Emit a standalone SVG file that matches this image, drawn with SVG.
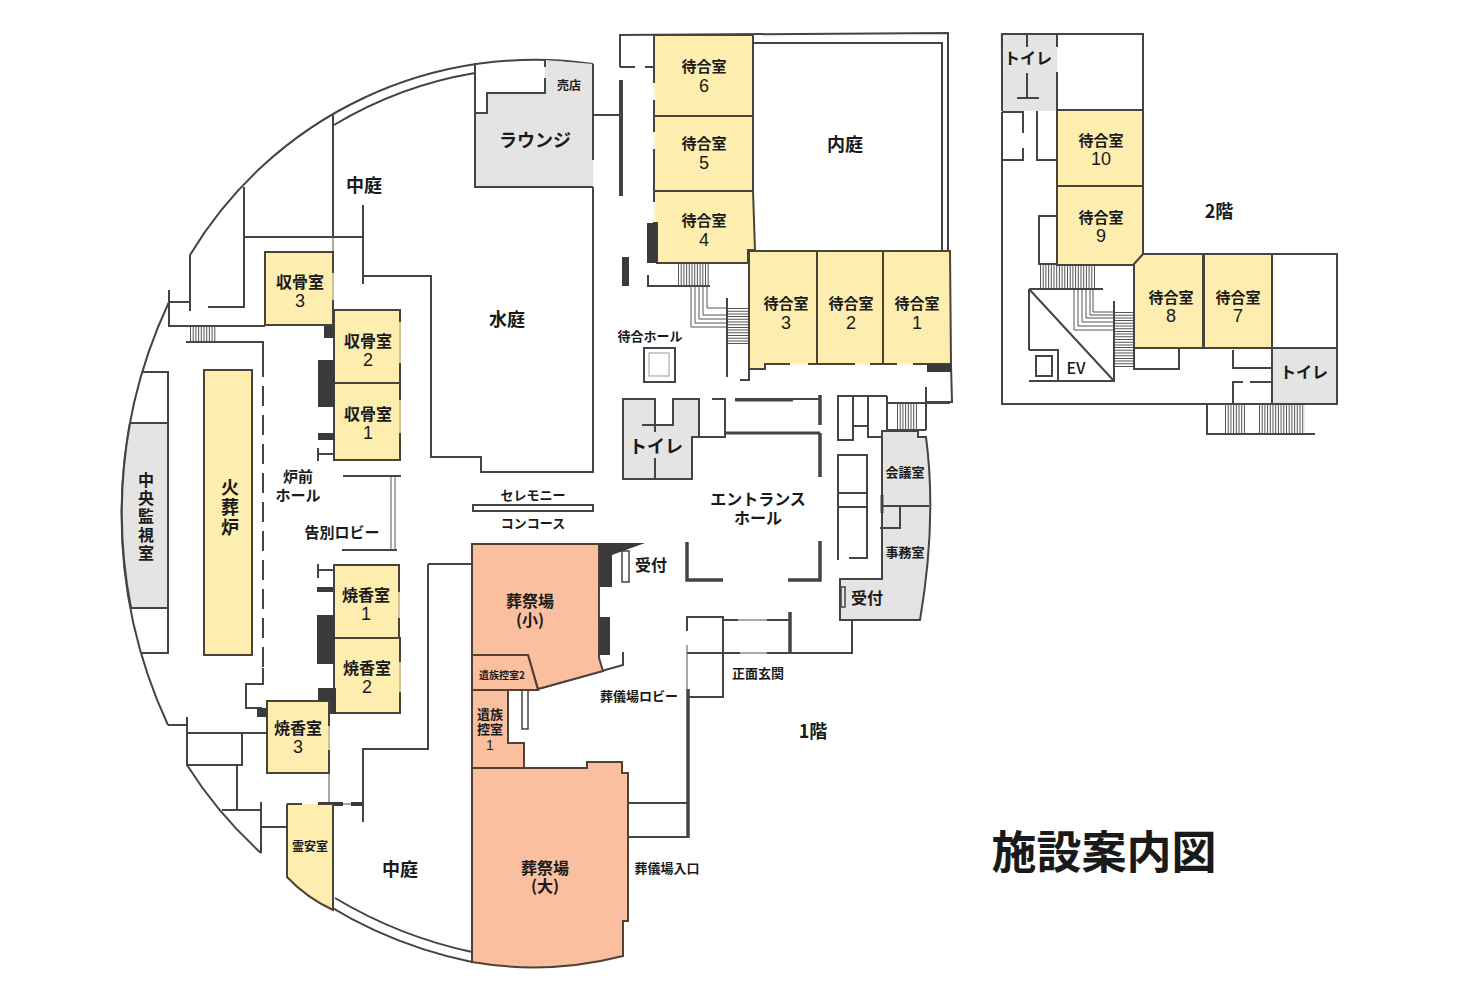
<svg xmlns="http://www.w3.org/2000/svg" width="1460" height="1000" viewBox="0 0 1460 1000">
<style>
text{font-family:"Noto Sans CJK JP","Noto Sans",sans-serif;font-weight:700;fill:#1a1a1a;text-anchor:middle}
.num{font-family:"Liberation Sans",sans-serif;font-size:18px;font-weight:400}
.w{fill:none;stroke:#444;stroke-width:2}
.t{fill:none;stroke:#444;stroke-width:3.5}
.n{fill:none;stroke:#555;stroke-width:1}
.y{fill:#fdeeb0;stroke:#4a4436;stroke-width:2}
.o{fill:#f9bf9f;stroke:#4f4038;stroke-width:2}
.g{fill:#e4e4e4;stroke:#444;stroke-width:2}
.gf{fill:#e4e4e4;stroke:none}
.d{fill:#3a3a3a;stroke:none}
.h{fill:none;stroke:#555;stroke-dasharray:1 1.7}
.e{fill:none;stroke:#cfc28e;stroke-width:2}
.s16{font-size:16px}.s15{font-size:15px}.s18{font-size:18px}.s13{font-size:13px}.s12{font-size:12px}.s10{font-size:10px}
</style>
<rect width="1460" height="1000" fill="#fff"/>

<g id="connectors">
<path class="w" d="M593 64A402 402 0 0 0 190 255"/>
<path class="w" d="M169 302A500 500 0 0 0 168 725"/>
<path class="w" d="M187 765A420 420 0 0 0 261 853M287 877A450 450 0 0 0 472 962"/>
<path class="w" d="M475 73A402 402 0 0 0 334 125M335 898A450 450 0 0 0 472 952"/>
<path class="w" d="M333 114V237M244 187V307H208M190 255V311M169 290V326H265M169 302H189M244 237H363M363 205V284M363 276H431V457H481V472H593V187M186 342H263V357"/>
<path class="n" d="M333 237V252"/>
<path class="h" stroke-width="15" d="M190 334H216"/>
<path class="w" d="M142 372H168V423M168 608V653H142"/>
<path class="w" stroke-dasharray="20 9" d="M263 357V668"/>
<path class="w" d="M263 668V684H246V708H262M168 725H187M187 717V765H242V733M187 733H267M237 764V810M222 810H261M261 802V853M261 827H287"/>
<path class="w" d="M318 448V461M318 454H334M318 564V578M318 570H334"/>
<path class="w" d="M343 476H401M342 550H397"/>
<path class="n" stroke-width="1.500" d="M391 476V550M395 476V550"/>
<path class="n" d="M329 773V804M343 804H351"/>
<path class="d" d="M318 802H343V806H318ZM351 802H363V806H351Z"/>
<path class="w" d="M428 564H472M428 564V749H363V822"/>
<rect class="w" x="473" y="505" width="120" height="6"/>
<path class="w" d="M620 67V35L948 33V250M753 43H942V250M593 115H620M951 365L952 402H927M926 387V430M887 403H950M887 430H926M887 396H838V440H853V396M853 426H868M868 396V437H882M887 396V430"/>
<path class="w" d="M620 67H635M645 67H654"/>
<path class="t" style="stroke-width:4" d="M621 80V196"/>
<path class="d" d="M622 257H629V286H622Z"/>
<path class="w" d="M648 275V286H710"/>
<path class="h" stroke-width="23" d="M678 274.500H710"/>
<path class="n" stroke-width="1.200" d="M691 286V327H727M695 286V323H727M699 286V319H727M703 286V315H727M707 286V308H727"/>
<path class="h" stroke-width="22" d="M738 308V345"/>
<path class="w" d="M727 298V377M740 380H749V369"/>
<rect x="644" y="348" width="31" height="34" class="w"/>
<rect x="649" y="353" width="20" height="23" fill="none" stroke="#999"/>
<path class="t" d="M687 542V580H723M820 541V580H788"/>
<path class="t" d="M820 395V425M820 433V477"/>
<path class="w" d="M712 399H725V437H692M735 399H820"/>
<path class="t" style="stroke-width:3" d="M735 400H793M725 433H820"/>
<path class="w" d="M849 558H867V455H838V560M838 493H867M838 507H867"/>
<path class="w" d="M687 631V617H723V697H688M723 620H738M767 620H790M687 653H740M767 653H852V620"/>
<path class="n" d="M738 620H767M740 653H767M687 645V689"/>
<path class="t" d="M790 612V653"/>
<path class="t" d="M688 689V838"/>
<path class="w" d="M628 803H688M628 837H688"/>
<path class="w" d="M623 652V665L538 689"/>
<rect class="w" x="622" y="551" width="7" height="31" style="stroke-width:1.500"/>
<rect class="w" x="522" y="690" width="6" height="39" style="stroke-width:1.500"/>
<path class="h" stroke-width="27" d="M897 416.500H917"/>
<path class="w" d="M1057 34H1143V110M1002 112V404H1337V254H1272M1002 112H1023V133M1023 148V160H1002M1056 110H1037V160H1056M1056 216H1039V264H1056"/>
<path class="w" d="M1029 289H1103M1029 289V350M1029 289L1114 381M1114 301V381H1029M1029 350H1058V381"/>
<rect class="w" x="1036" y="356" width="16" height="20"/>
<path class="h" stroke-width="23" d="M1040 276.500H1096"/>
<path class="n" stroke-width="1.200" d="M1074 290V330H1114M1078 290V326H1114M1082 290V322H1114M1086 290V318H1114M1090 290V315H1114M1093 290V312H1114"/>
<path class="h" stroke-width="19" d="M1124.500 312V368"/>
<path class="w" d="M1134 348V369H1179V348M1233 350V368H1272M1272 382H1250M1243 382H1233V404M1272 348V404M1207 404V434H1315"/>
<path class="h" stroke-width="30" d="M1225 419H1245M1259 419H1305"/>
</g>

<g id="room-chuoukanshi">
<path class="g" d="M130 423H168V608H131A500 500 0 0 1 130 423Z"/>
<text class="s16" x="146" y="486"><tspan x="146">中</tspan><tspan x="146" dy="18.200">央</tspan><tspan x="146" dy="18.200">監</tspan><tspan x="146" dy="18.200">視</tspan><tspan x="146" dy="18.200">室</tspan></text>
</g>
<g id="room-kasouro">
<rect class="y" x="204" y="370" width="48" height="285"/>
<text class="s18" x="230" y="494"><tspan x="230">火</tspan><tspan x="230" dy="20">葬</tspan><tspan x="230" dy="20">炉</tspan></text>
</g>
<g id="room-shukotsu3"><rect class="y" x="265" y="252" width="68" height="73"/><path class="e" d="M333 273V300"/><text class="s16" x="300" y="288"><tspan x="300">収骨室</tspan><tspan x="300" dy="18.500" class="num">3</tspan></text></g>
<g id="room-shukotsu2"><rect class="y" x="334" y="310" width="66" height="73"/><path class="e" d="M400 322V363"/><text class="s16" x="368" y="347"><tspan x="368">収骨室</tspan><tspan x="368" dy="18.500" class="num">2</tspan></text></g>
<g id="room-shukotsu1"><rect class="y" x="334" y="383" width="66" height="77"/><path class="e" d="M400 400V433"/><text class="s16" x="368" y="420"><tspan x="368">収骨室</tspan><tspan x="368" dy="18.500" class="num">1</tspan></text></g>
<path class="d" d="M324 326H334V338H324ZM318 360H335V407H318ZM318 433H335V440H318Z"/>
<g id="room-shoukou1"><rect class="y" x="334" y="565" width="65" height="73"/><path class="e" d="M399 592V618"/><text class="s16" x="366" y="601"><tspan x="366">焼香室</tspan><tspan x="366" dy="18.500" class="num">1</tspan></text></g>
<g id="room-shoukou2"><rect class="y" x="334" y="638" width="66" height="75"/><path class="e" d="M400 662V692"/><text class="s16" x="367" y="674"><tspan x="367">焼香室</tspan><tspan x="367" dy="18.500" class="num">2</tspan></text></g>
<g id="room-shoukou3"><rect class="y" x="267" y="701" width="62" height="72"/><path class="e" d="M329 726V750"/><text class="s16" x="298" y="734"><tspan x="298">焼香室</tspan><tspan x="298" dy="18.500" class="num">3</tspan></text></g>
<path class="d" d="M317 615H335V664H317ZM317 587H333V592H317ZM257 708H267V717H257ZM318 688H336V714H330V701H318Z"/>
<g id="room-reian"><path class="y" d="M287 804H302M318 804H333V910A150 150 0 0 1 287 877V804"/><text class="s12" x="310" y="851">霊安室</text></g>

<g id="room-lounge">
<path class="gf" d="M475 113H487V93H545V60L593 64V187H475Z"/>
<path class="w" d="M475 63V187H593M475 113H487V93H545V78M545 60V67M593 64V160"/>
<text class="s18" x="535" y="147">ラウンジ</text>
<text class="s12" x="569" y="90">売店</text>
</g>

<g id="room-machiai6"><path class="y" d="M654 35H753V116H654Z" style="stroke:none"/><text class="s15" x="704" y="72"><tspan x="704">待合室</tspan><tspan x="704" dy="19.500" class="num">6</tspan></text></g>
<g id="room-machiai5"><path class="y" d="M654 116H753V191H654Z"/><text class="s15" x="704" y="149"><tspan x="704">待合室</tspan><tspan x="704" dy="19.500" class="num">5</tspan></text></g>
<g id="room-machiai4"><path class="y" d="M654 191H753L755 250H748V263H657V223H654Z"/><text class="s15" x="704" y="226"><tspan x="704">待合室</tspan><tspan x="704" dy="19.500" class="num">4</tspan></text></g>
<path class="w" d="M654 35H753V116M654 35V83M654 100V131M654 150V201"/>
<path d="M654 84V99M654 132V149M654 202V222" stroke="#fdf6d8" stroke-width="2.500" fill="none"/>
<path class="d" d="M647 223H657V263H647Z"/>
<g id="room-machiai3"><path class="y" d="M749 251H817V364H765V369H749Z"/><text class="s15" x="786" y="309"><tspan x="786">待合室</tspan><tspan x="786" dy="19.500" class="num">3</tspan></text></g>
<g id="room-machiai2"><path class="y" d="M817 251H883V364H817Z"/><text class="s15" x="851" y="309"><tspan x="851">待合室</tspan><tspan x="851" dy="19.500" class="num">2</tspan></text></g>
<g id="room-machiai1"><path class="y" d="M883 251H950L951 364H883Z"/><text class="s15" x="917" y="309"><tspan x="917">待合室</tspan><tspan x="917" dy="19.500" class="num">1</tspan></text></g>
<path d="M790 364.500H808M855 364.500H870M897 364.500H913" stroke="#fdf6d8" stroke-width="3" fill="none"/>
<path class="d" d="M927 364H951V372H927Z"/>

<g id="room-toilet-1f">
<path class="g" d="M623 399H655V425H673V399H699V437H692V479H623Z"/>
<path class="w" d="M642 425H673M655 399V432M655 458V479"/>
<text class="s18" x="656" y="453">トイレ</text>
</g>
<g id="room-office">
<path class="g" d="M882 431H918V437H926Q937 520 920 620H840V579H882Z"/>
<path class="w" d="M882 506H929M900 506V528H880"/>
<path class="t" style="stroke-width:3" d="M882 495V513"/>
<rect class="w" x="841" y="587" width="4" height="20" style="stroke-width:1.500"/>
<text class="s13" x="905" y="477">会議室</text>
<text class="s13" x="905" y="557">事務室</text>
<text class="s16" x="867" y="604">受付</text>
</g>

<g id="room-saijou-sho">
<path class="o" d="M472 544H599V658L603 671L538 689L528 655H472Z"/>
<path class="d" d="M599 543L645 543L612 555V587H599ZM599 617H610V655H599Z"/>
<text class="s16" x="530" y="607"><tspan x="530">葬祭場</tspan><tspan x="530" dy="19">(小)</tspan></text>
</g>
<g id="room-izoku2"><path class="o" d="M472 655H528L538 690H472Z"/><text class="s10" x="502" y="679">遺族控室2</text></g>
<g id="room-izoku1"><path class="o" d="M472 690H508V743H524V768H472Z"/><text class="s13" x="490" y="719"><tspan x="490">遺族</tspan><tspan x="490" dy="15">控室</tspan><tspan x="490" dy="16" class="num" style="font-size:14px">1</tspan></text></g>
<g id="room-saijou-dai">
<path class="o" d="M472 768H587V762H622V773H628V921H623V956A360 360 0 0 1 472 962Z"/>
<text class="s16" x="545" y="874"><tspan x="545">葬祭場</tspan><tspan x="545" dy="18">(大)</tspan></text>
</g>

<g id="room-toilet-2f-a">
<path class="gf" d="M1000 34H1057V111H1002Z"/>
<path class="w" d="M1057 110V72M1057 34V47M1002 111V34H1057M1027 34V47M1027 73V98M1017 98H1039"/>
<text class="s16" x="1028" y="64">トイレ</text>
</g>
<g id="room-machiai10"><rect class="y" x="1057" y="110" width="86" height="76"/><text class="s15" x="1101" y="146"><tspan x="1101">待合室</tspan><tspan x="1101" dy="19" class="num">10</tspan></text></g>
<g id="room-machiai9"><path class="y" d="M1057 186H1143V255L1134 265H1057Z"/><text class="s15" x="1101" y="223"><tspan x="1101">待合室</tspan><tspan x="1101" dy="19" class="num">9</tspan></text></g>
<g id="room-machiai8"><path class="y" d="M1134 264L1143 254H1203V348H1134Z"/><text class="s15" x="1171" y="303"><tspan x="1171">待合室</tspan><tspan x="1171" dy="19" class="num">8</tspan></text></g>
<g id="room-machiai7"><path class="y" d="M1204 254H1272V348H1204Z"/><text class="s15" x="1238" y="303"><tspan x="1238">待合室</tspan><tspan x="1238" dy="19" class="num">7</tspan></text></g>
<g id="room-toilet-2f-b"><rect class="g" x="1272" y="348" width="65" height="56"/><text class="s16" x="1304" y="378">トイレ</text></g>

<g id="labels">
<text class="s18" x="364" y="192">中庭</text>
<text class="s18" x="507" y="326">水庭</text>
<text class="s18" x="845" y="151">内庭</text>
<text class="s18" x="400" y="876">中庭</text>
<text class="s13" x="650" y="341">待合ホール</text>
<text class="s15" x="298" y="482"><tspan x="298">炉前</tspan><tspan x="298" dy="19">ホール</tspan></text>
<text class="s15" x="342" y="538">告別ロビー</text>
<text class="s13" x="533" y="500">セレモニー</text>
<text class="s13" x="533" y="528">コンコース</text>
<text class="s16" x="758" y="505"><tspan x="758">エントランス</tspan><tspan x="758" dy="19">ホール</tspan></text>
<text class="s16" x="651" y="571">受付</text>
<text class="s13" x="639" y="701">葬儀場ロビー</text>
<text class="s13" x="758" y="678">正面玄関</text>
<text class="s18" x="813" y="738">1階</text>
<text class="s13" x="667" y="873">葬儀場入口</text>
<text class="s18" x="1219" y="218">2階</text>
<text class="s16" x="1076" y="374" style="font-weight:500">EV</text>
<text x="1104" y="869" style="font-size:45px">施設案内図</text>
</g>
</svg>
